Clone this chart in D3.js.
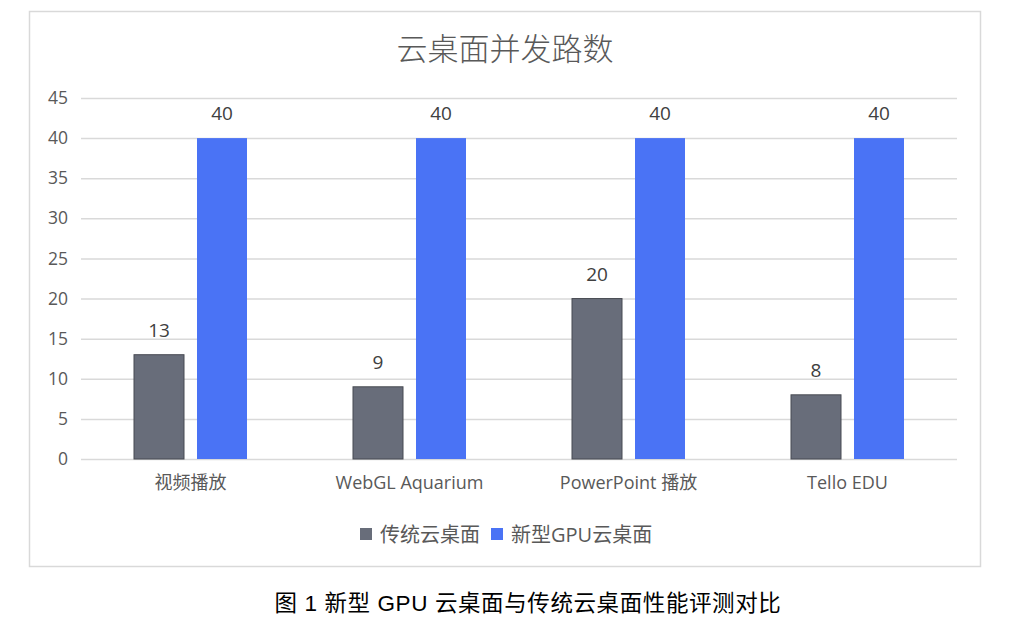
<!DOCTYPE html>
<html>
<head>
<meta charset="utf-8">
<script src="https://cdn.jsdelivr.net/npm/d3@7"></script>
<style>
  html, body { margin: 0; padding: 0; background: #fff; }
  svg { display: block; }
</style>
</head>
<body>
<svg id="chart" width="1011" height="622"></svg>
<script>
const categories = ["视频播放", "WebGL Aquarium", "PowerPoint 播放", "Tello EDU"];
const seriesNames = ["传统云桌面", "新型GPU云桌面"];
const traditional = [13, 9, 20, 8];
const gpu = [40, 40, 40, 40];
const yTicks = [0, 5, 10, 15, 20, 25, 30, 35, 40, 45];
const chartTitle = "云桌面并发路数";
const caption = "图 1 新型 GPU 云桌面与传统云桌面性能评测对比";
const colors = ["#686d7a", "#4a73f5"];

const svg = d3.select("#chart");
const fontLatin = "'Open Sans', 'Noto Sans CJK SC', sans-serif";
const fontCJK = "'Noto Sans CJK SC', 'Open Sans', sans-serif";

// chart border
svg.append("rect")
  .attr("x", 29.5).attr("y", 11.5)
  .attr("width", 951).attr("height", 555)
  .attr("fill", "#fff").attr("stroke", "#d9d9d9").attr("stroke-width", 1.5);

// title
svg.append("text")
  .attr("x", 505).attr("y", 60)
  .attr("text-anchor", "middle")
  .attr("font-family", fontCJK)
  .attr("font-weight", 300)
  .attr("font-size", 31)
  .attr("fill", "#595959")
  .text(chartTitle);

const plotLeft = 81, plotRight = 957;
const y = d3.scaleLinear().domain([0, 45]).range([459, 98]);
const x0 = d3.scaleBand().domain(categories).range([plotLeft, plotRight]).padding(0);
const groupW = 113;
const x1 = d3.scaleBand().domain(seriesNames).range([0, groupW]).paddingInner(13 / 63).paddingOuter(0);

// gridlines via axis
const yAxis = d3.axisLeft(y).tickValues(yTicks).tickSize(-(plotRight - plotLeft)).tickFormat(d3.format("d"));
const gy = svg.append("g").attr("transform", `translate(${plotLeft},0)`).call(yAxis);
gy.select(".domain").remove();
gy.selectAll(".tick line").attr("stroke", "#d9d9d9").attr("stroke-width", 1.5);
gy.selectAll(".tick text")
  .attr("x", -13)
  .attr("font-family", fontLatin)
  .attr("font-size", 17.5)
  .attr("fill", "#595959");

// x axis labels
const xAxis = d3.axisBottom(x0).tickSize(0).tickPadding(17);
const gx = svg.append("g").attr("transform", `translate(0,${y(0)})`).call(xAxis);
gx.select(".domain").remove();
gx.selectAll(".tick text")
  .attr("font-family", fontLatin)
  .attr("font-size", 18)
  .attr("fill", "#595959");

// bars
const data = categories.map((c, i) => ({ cat: c, values: [traditional[i], gpu[i]] }));
const groups = svg.append("g").selectAll("g").data(data).join("g")
  .attr("transform", d => `translate(${x0(d.cat) + (x0.bandwidth() - groupW) / 2},0)`);

groups.selectAll("rect").data(d => d.values.map((v, j) => ({ s: seriesNames[j], v, j }))).join("rect")
  .attr("x", d => x1(d.s))
  .attr("y", d => y(d.v))
  .attr("width", x1.bandwidth())
  .attr("height", d => y(0) - y(d.v))
  .attr("fill", d => colors[d.j])
  .attr("stroke", d => d.j === 0 ? "#474a52" : "none")
  .attr("stroke-width", 1);

groups.selectAll("text.val").data(d => d.values.map((v, j) => ({ s: seriesNames[j], v, j }))).join("text")
  .attr("class", "val")
  .attr("x", d => x1(d.s) + x1.bandwidth() / 2)
  .attr("y", d => y(d.v) - 18)
  .attr("text-anchor", "middle")
  .attr("font-family", fontLatin)
  .attr("font-size", 19)
  .attr("fill", "#404040")
  .text(d => d.v);

// legend
const legend = svg.append("g").attr("transform", "translate(0,534)");
const legendItems = [
  { name: seriesNames[0], color: colors[0], x: 360 },
  { name: seriesNames[1], color: colors[1], x: 491 }
];
legendItems.forEach(it => {
  legend.append("rect").attr("x", it.x).attr("y", -6).attr("width", 12).attr("height", 12).attr("fill", it.color);
  legend.append("text")
    .attr("x", it.x + 20).attr("y", 7.5)
    .attr("font-family", fontLatin)
    .attr("font-size", 20)
    .attr("fill", "#595959")
    .text(it.name);
});

// caption
svg.append("text")
  .attr("x", 528).attr("y", 611)
  .attr("text-anchor", "middle")
  .attr("font-family", "'Liberation Sans', 'Noto Sans CJK SC', sans-serif")
  .attr("font-weight", 400)
  .attr("font-size", 22.5)
  .attr("letter-spacing", 0.6)
  .attr("fill", "#000")
  .style("white-space", "pre")
  .text(caption);
</script>
</body>
</html>
